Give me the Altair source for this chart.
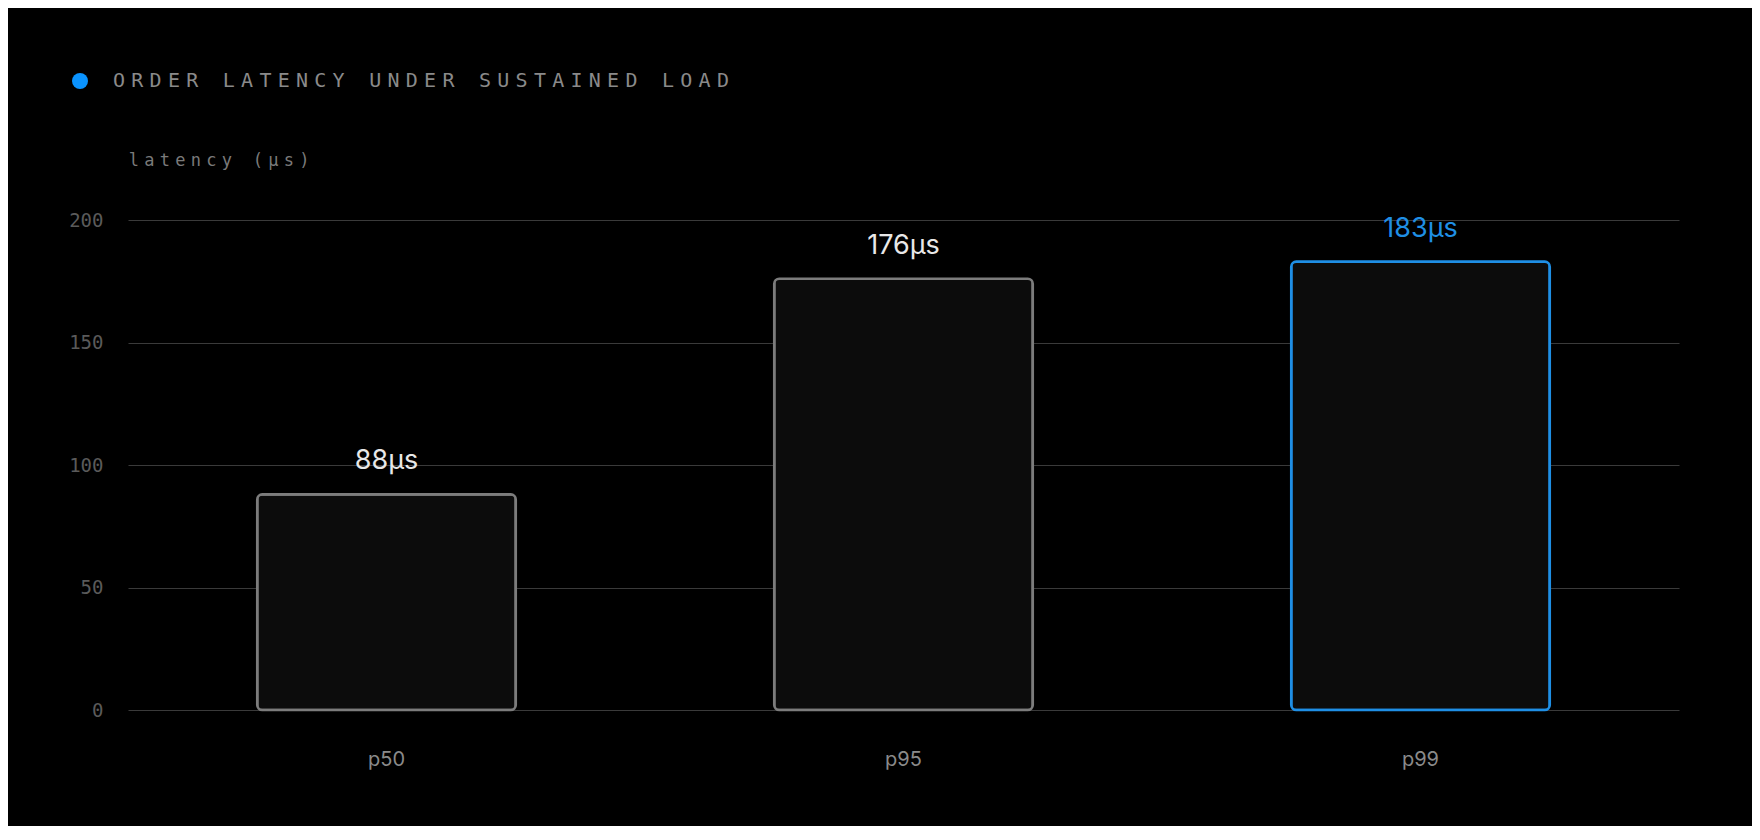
import altair as alt
import pandas as pd

# ---- data ----
categories = ["p50", "p95", "p99"]
latency_us = [88, 176, 183]
value_labels = ["88µs", "176µs", "183µs"]
y_ticks = [0, 50, 100, 150, 200]
title_text = "ORDER LATENCY UNDER SUSTAINED LOAD"
y_title_text = "latency (µs)"

GRAY = "#7c7c7c"
BLUE = "#1f8fe5"
DOT_BLUE = "#0a93ff"

df = pd.DataFrame({"pct": categories, "lat": latency_us, "label": value_labels})

x_enc = alt.X(
    "pct:N",
    sort=categories,
    scale=alt.Scale(paddingInner=0.5, paddingOuter=0.25),
    axis=alt.Axis(
        title=None, domain=False, ticks=False, tickSize=0, grid=False,
        labelFont="Inter", labelFontSize=20, labelColor="#8a8a8a",
        labelPadding=49, labelBaseline="middle", labelAngle=0,
    ),
)
y_enc = alt.Y(
    "lat:Q",
    scale=alt.Scale(domain=[0, 200], nice=False),
    axis=alt.Axis(
        title=None, values=y_ticks, domain=False, ticks=False, tickSize=0,
        labelFont="DejaVu Sans Mono", labelFontSize=19, labelColor="#5a5a5a",
        labelPadding=25, gridColor="#3a3a3a", gridWidth=1,
    ),
)

bars = alt.Chart(df).mark_bar(
    fill="#0c0c0c", strokeWidth=2.6, cornerRadius=5
).encode(
    x=x_enc,
    y=y_enc,
    stroke=alt.Stroke("pct:N", scale=alt.Scale(domain=categories, range=[GRAY, GRAY, BLUE]), legend=None),
)

labels = alt.Chart(df).mark_text(
    font="Inter", fontSize=27, baseline="middle", align="center", dy=-33
).encode(
    x=x_enc,
    y=y_enc,
    text="label:N",
    color=alt.Color("pct:N", scale=alt.Scale(domain=categories, range=["#e8e8e8", "#e8e8e8", BLUE]), legend=None),
)


def spaced_text(text, font_size, color, x_first, pitch, y):
    n = len(text)
    cdf = pd.DataFrame({"ch": list(text), "i": list(range(n))})
    return alt.Chart(cdf).mark_text(
        font="DejaVu Sans Mono", fontSize=font_size, color=color,
        align="center", baseline="middle",
    ).encode(
        x=alt.X("i:Q", scale=alt.Scale(domain=[0, n - 1], range=[x_first, x_first + (n - 1) * pitch], nice=False, zero=False), axis=None),
        y=alt.value(y),
        text="ch:N",
    )


title_layer = spaced_text(title_text, 20, "#8a8a8a", -9, 18.3, -139)
ytitle_layer = spaced_text(y_title_text, 17, "#7a7a7a", 5.75, 15.5, -59)

dot = alt.Chart(pd.DataFrame({"series": [title_text]})).mark_circle(
    size=256, color=DOT_BLUE, opacity=1
).encode(x=alt.value(-48), y=alt.value(-139))

chart = alt.layer(
    alt.layer(bars, labels),
    title_layer,
    ytitle_layer,
    dot,
).resolve_scale(x="independent").properties(
    width=1551,
    height=490,
    autosize=alt.AutoSizeParams(type="none"),
    padding={"left": 120, "top": 212, "right": 73, "bottom": 116},
    background="#000000",
).configure_view(stroke=None)

chart.save("out.html", embed_options={"renderer": "svg", "actions": False})
